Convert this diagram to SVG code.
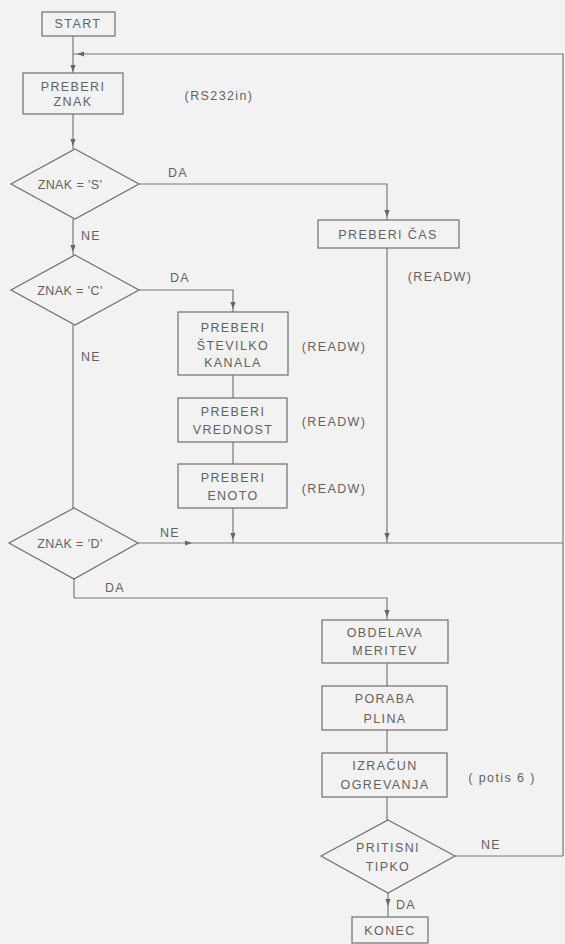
<svg xmlns="http://www.w3.org/2000/svg" xmlns:xlink="http://www.w3.org/1999/xlink" width="565" height="944" viewBox="0 0 565 944">
<style>
.bg{fill:#f2f2f2}
.n{fill:none;stroke:#6f6f6f;stroke-width:1.2}
.c{fill:none;stroke:#777;stroke-width:1.2}
text{font-family:"Liberation Sans",Arial,sans-serif;font-size:12.5px;fill:#626262;letter-spacing:1.4px;text-anchor:middle;dominant-baseline:central}
text.q{letter-spacing:0.4px}
.ah{fill:#666}
</style>
<defs>
<path id="ad" d="M-2.6,-7 L2.6,-7 L0,0 Z"/>
</defs>
<rect class="bg" x="0" y="0" width="565" height="944"/>

<g id="connectors">
<path class="c" d="M73,36 V73"/>
<path class="c" d="M73,54 H563 V856"/>
<path class="c" d="M73,114 V149"/>
<path class="c" d="M139,184 H387 V220"/>
<path class="c" d="M73,219 V255"/>
<path class="c" d="M139,290 H233 V312"/>
<path class="c" d="M233,375 V398"/>
<path class="c" d="M233,442 V464"/>
<path class="c" d="M233,508 V543"/>
<path class="c" d="M387,248 V543"/>
<path class="c" d="M73,325 V508"/>
<path class="c" d="M138,543 H563"/>
<path class="c" d="M74,579 V598 H387 V620"/>
<path class="c" d="M387,663 V686"/>
<path class="c" d="M387,730 V753"/>
<path class="c" d="M387,797 V820"/>
<path class="c" d="M455,856 H563"/>
<path class="c" d="M388,893 V917"/>
<g class="ah">
<use xlink:href="#ad" transform="translate(73,72)"/>
<use xlink:href="#ad" transform="translate(77,54) rotate(90)"/>
<use xlink:href="#ad" transform="translate(73,146)"/>
<use xlink:href="#ad" transform="translate(387,217)"/>
<use xlink:href="#ad" transform="translate(73,252)"/>
<use xlink:href="#ad" transform="translate(233,309)"/>
<use xlink:href="#ad" transform="translate(233,540)"/>
<use xlink:href="#ad" transform="translate(387,540)"/>
<use xlink:href="#ad" transform="translate(192,543) rotate(-90)"/>
<use xlink:href="#ad" transform="translate(387,617)"/>
<use xlink:href="#ad" transform="translate(388,906)"/>
</g>
<text x="178" y="173">DA</text>
<text x="91" y="236">NE</text>
<text x="180" y="278">DA</text>
<text x="91" y="357">NE</text>
<text x="170" y="533">NE</text>
<text x="115" y="588">DA</text>
<text x="491" y="845">NE</text>
<text x="406" y="905">DA</text>
</g>

<g id="start">
<rect class="n" x="42" y="12" width="73" height="24"/>
<text x="78" y="24">START</text>
</g>

<g id="preberi-znak">
<rect class="n" x="23" y="73" width="100" height="41"/>
<text x="73" y="87">PREBERI</text>
<text x="73" y="102">ZNAK</text>
</g>
<g id="note-rs232">
<text x="219" y="96">(RS232in)</text>
</g>

<g id="znak-s">
<path class="n" d="M75,149 L139,184 L75,219 L11,184 Z"/>
<text class="q" x="70" y="185">ZNAK = 'S'</text>
</g>

<g id="preberi-cas">
<rect class="n" x="318" y="220" width="141" height="28"/>
<text x="388" y="235">PREBERI ČAS</text>
<text x="440" y="277">(READW)</text>
</g>

<g id="znak-c">
<path class="n" d="M75,255 L139,290 L75,325 L11,290 Z"/>
<text class="q" x="70" y="291">ZNAK = 'C'</text>
</g>

<g id="preberi-kanal">
<rect class="n" x="178" y="312" width="110" height="63"/>
<text x="233" y="328">PREBERI</text>
<text x="233" y="346">ŠTEVILKO</text>
<text x="233" y="363">KANALA</text>
<text x="334" y="347">(READW)</text>
</g>

<g id="preberi-vrednost">
<rect class="n" x="178" y="398" width="109" height="44"/>
<text x="233" y="412">PREBERI</text>
<text x="233" y="430">VREDNOST</text>
<text x="334" y="422">(READW)</text>
</g>

<g id="preberi-enoto">
<rect class="n" x="178" y="464" width="109" height="44"/>
<text x="233" y="478">PREBERI</text>
<text x="233" y="496">ENOTO</text>
<text x="334" y="489">(READW)</text>
</g>

<g id="znak-d">
<path class="n" d="M74,508 L138,543 L74,579 L9,543 Z"/>
<text class="q" x="70" y="544">ZNAK = 'D'</text>
</g>

<g id="obdelava">
<rect class="n" x="322" y="620" width="126" height="43"/>
<text x="385" y="633">OBDELAVA</text>
<text x="385" y="651">MERITEV</text>
</g>

<g id="poraba">
<rect class="n" x="322" y="686" width="125" height="44"/>
<text x="385" y="699">PORABA</text>
<text x="385" y="719">PLINA</text>
</g>

<g id="izracun">
<rect class="n" x="322" y="753" width="125" height="44"/>
<text x="385" y="766">IZRAČUN</text>
<text x="385" y="785">OGREVANJA</text>
<text x="502" y="778">( potis 6 )</text>
</g>

<g id="pritisni">
<path class="n" d="M388,820 L455,856 L388,893 L321,856 Z"/>
<text x="388" y="848">PRITISNI</text>
<text x="388" y="867">TIPKO</text>
</g>

<g id="konec">
<rect class="n" x="352" y="917" width="76" height="26"/>
<text x="390" y="931">KONEC</text>
</g>
</svg>
